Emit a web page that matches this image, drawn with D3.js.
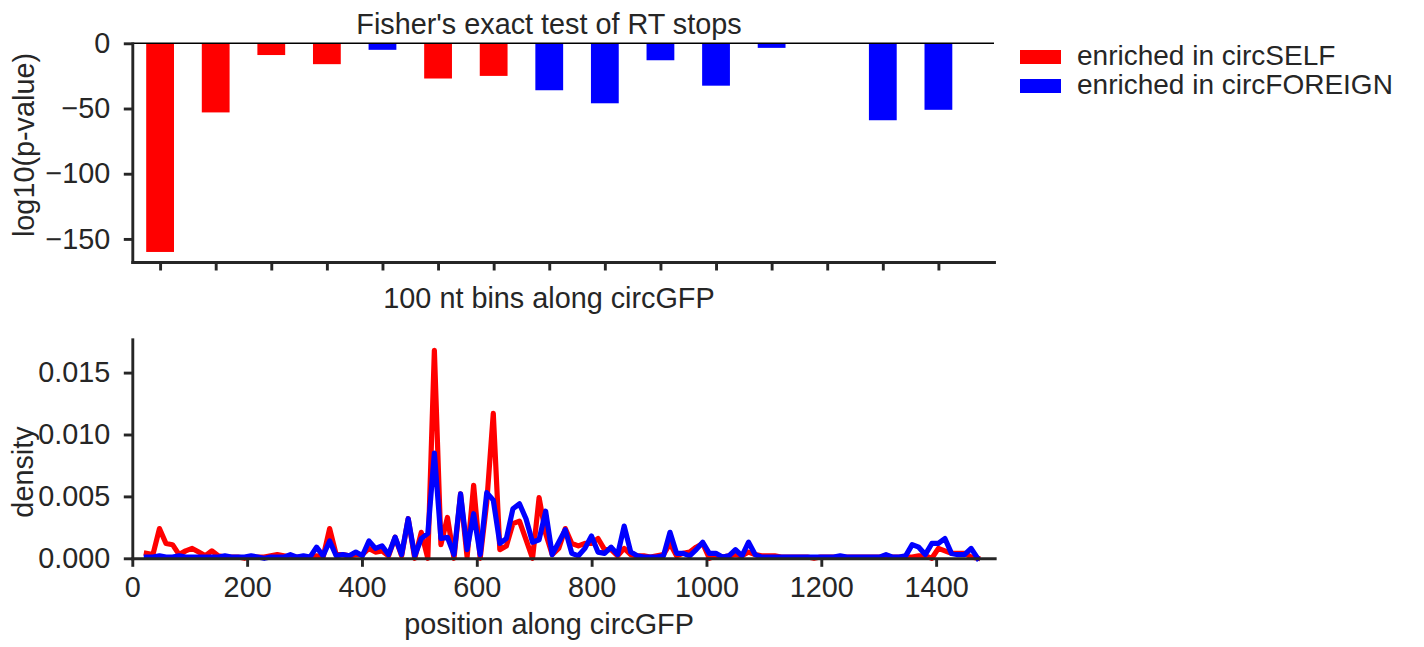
<!DOCTYPE html>
<meta charset="utf-8">
<head>
<style>
 body { margin: 0; background: #fff; }
 text { font-family: "Liberation Sans", Arial, sans-serif; fill: #262626; }
</style>
</head>
<body>
<script src="https://d3js.org/d3.v7.min.js"></script>
<script>
 // top panel: Fisher's exact test per 100 nt bin
 const bins = [0, 1, 2, 3, 4, 5, 6, 7, 8, 9, 10, 11, 12, 13, 14];
 const logP = [-160, -53, -9, -16, -5, -27, -25, -36, -46, -13, -32.5, -3.5, 0, -59, -51];
 const enrichedIn = ["self", "self", "self", "self", "foreign", "self", "self", "foreign",
                     "foreign", "foreign", "foreign", "foreign", "foreign", "foreign", "foreign"];
 const logTicks = [0, -50, -100, -150];
 const legendLabels = ["enriched in circSELF", "enriched in circFOREIGN"];

 // bottom panel: RT stop density along circGFP
 const positions = [24.5, 35.9, 47.3, 58.7, 70.1, 81.5, 92.9, 104.3, 115.7, 127.1,
                    138.5, 149.9, 161.3, 172.7, 184.1, 195.5, 206.9, 218.3, 229.7, 241.1,
                    252.5, 263.9, 275.3, 286.7, 298.1, 309.5, 320.9, 332.3, 343.7, 355.1,
                    366.5, 377.9, 389.3, 400.7, 412.1, 423.5, 434.9, 446.3, 457.7, 469.1,
                    480.5, 491.9, 503.3, 514.7, 526.1, 537.5, 548.9, 560.3, 571.7, 583.1,
                    594.5, 605.9, 617.3, 628.7, 640.1, 651.5, 662.9, 674.3, 685.7, 697.1,
                    708.5, 719.9, 731.3, 742.7, 754.1, 765.5, 776.9, 788.3, 799.7, 811.1,
                    822.5, 833.9, 845.3, 856.7, 868.1, 879.5, 890.9, 902.3, 913.7, 925.1,
                    936.5, 947.9, 959.3, 970.7, 982.1, 993.5, 1004.9, 1016.3, 1027.7, 1039.1,
                    1050.5, 1061.9, 1073.3, 1084.7, 1096.1, 1107.5, 1118.9, 1130.3, 1141.7, 1153.1,
                    1164.5, 1175.9, 1187.3, 1198.7, 1210.1, 1221.5, 1232.9, 1244.3, 1255.7, 1267.1,
                    1278.5, 1289.9, 1301.3, 1312.7, 1324.1, 1335.5, 1346.9, 1358.3, 1369.7, 1381.1,
                    1392.5, 1403.9, 1415.3, 1426.7, 1438.1, 1449.5, 1460.9, 1472.3];
 const selfDensity = [0.0004, 0.0003, 0.0024, 0.0012, 0.0011, 0.0003, 0.0006, 0.0008, 0.0005, 0.0002,
                      0.0006, 0.0002, 0.0001, 0.0001, 0.0001, 0.0000, 0.0001, 0.0001, 0.0001, 0.0002,
                      0.0003, 0.0002, 0.0001, 0.0001, 0.0001, 0.0001, 0.0002, 0.0001, 0.0024, 0.0003,
                      0.0003, 0.0002, 0.0003, 0.0003, 0.0008, 0.0005, 0.0006, 0.0002, 0.0017, 0.0002,
                      0.0032, 0.0000, 0.0021, 0.0000, 0.0168, 0.0011, 0.0033, 0.0000, 0.0052, 0.0001,
                      0.0059, 0.0000, 0.0045, 0.0117, 0.0007, 0.0010, 0.0028, 0.0030, 0.0015, 0.0000,
                      0.0049, 0.0020, 0.0003, 0.0008, 0.0024, 0.0012, 0.0010, 0.0012, 0.0012, 0.0016,
                      0.0007, 0.0007, 0.0002, 0.0008, 0.0003, 0.0002, 0.0002, 0.0001, 0.0002, 0.0003,
                      0.0012, 0.0002, 0.0004, 0.0005, 0.0009, 0.0012, 0.0000, 0.0002, 0.0001, 0.0002,
                      0.0003, 0.0002, 0.0005, 0.0003, 0.0002, 0.0002, 0.0002, 0.0001, 0.0001, 0.0001,
                      0.0001, 0.0001, 0.0000, 0.0001, 0.0001, 0.0001, 0.0001, 0.0001, 0.0001, 0.0001,
                      0.0001, 0.0001, 0.0001, 0.0002, 0.0001, 0.0001, 0.0001, 0.0001, 0.0002, 0.0002,
                      0.0000, 0.0008, 0.0006, 0.0004, 0.0004, 0.0004, 0.0001, 0.0000];
 const foreignDensity = [0.0001, 0.0001, 0.0002, 0.0001, 0.0001, 0.0002, 0.0001, 0.0001, 0.0001, 0.0001,
                         0.0001, 0.0001, 0.0002, 0.0001, 0.0001, 0.0001, 0.0002, 0.0001, 0.0000, 0.0001,
                         0.0001, 0.0001, 0.0003, 0.0001, 0.0002, 0.0001, 0.0009, 0.0002, 0.0014, 0.0002,
                         0.0003, 0.0002, 0.0005, 0.0002, 0.0014, 0.0008, 0.0010, 0.0003, 0.0017, 0.0003,
                         0.0032, 0.0002, 0.0016, 0.0020, 0.0085, 0.0016, 0.0017, 0.0003, 0.0052, 0.0007,
                         0.0036, 0.0003, 0.0053, 0.0047, 0.0012, 0.0016, 0.0040, 0.0044, 0.0032, 0.0013,
                         0.0015, 0.0038, 0.0003, 0.0013, 0.0023, 0.0004, 0.0002, 0.0008, 0.0018, 0.0005,
                         0.0004, 0.0009, 0.0003, 0.0026, 0.0005, 0.0002, 0.0001, 0.0001, 0.0001, 0.0002,
                         0.0021, 0.0004, 0.0004, 0.0002, 0.0007, 0.0013, 0.0004, 0.0004, 0.0001, 0.0002,
                         0.0007, 0.0002, 0.0013, 0.0003, 0.0001, 0.0001, 0.0001, 0.0001, 0.0001, 0.0001,
                         0.0001, 0.0001, 0.0001, 0.0001, 0.0001, 0.0001, 0.0002, 0.0001, 0.0001, 0.0001,
                         0.0001, 0.0001, 0.0001, 0.0003, 0.0001, 0.0001, 0.0002, 0.0011, 0.0009, 0.0003,
                         0.0012, 0.0012, 0.0016, 0.0004, 0.0003, 0.0003, 0.0008, 0.0000];
 const densityTicks = [0, 0.005, 0.01, 0.015];
 const positionTicks = [0, 200, 400, 600, 800, 1000, 1200, 1400];

 const colors = { self: "#ff0000", foreign: "#0000ff" };
 const fontSize = "28.8px";
 const spine = "#262626";

 const svg = d3.select("body").append("svg")
               .attr("width", 1424)
               .attr("height", 647);

 function styleAxis(g) {
     g.selectAll(".domain").attr("stroke", spine).attr("stroke-width", 2.9).attr("stroke-linecap", "square");
     g.selectAll(".tick line").attr("stroke", spine).attr("stroke-width", 2.9);
     g.selectAll(".tick text").style("font-size", fontSize).attr("fill", "#262626")
      .style("font-family", '"Liberation Sans", Arial, sans-serif');
 }

 // ---------- top panel ----------
 const xBin = d3.scaleLinear().domain([-0.5, 15]).range([132.3, 994]);
 const yLog = d3.scaleLinear().domain([-167.7, 0]).range([262, 43.3]);
 const barW = xBin(0.25) - xBin(-0.25);

 const topPanel = svg.append("g");

 topPanel.selectAll("rect.bar")
    .data(bins)
    .join("rect")
    .attr("class", "bar")
    .attr("x", i => xBin(i) - barW / 2)
    .attr("width", barW)
    .attr("y", yLog(0))
    .attr("height", i => yLog(logP[i]) - yLog(0))
    .attr("fill", i => colors[enrichedIn[i]]);

 // zero line
 topPanel.append("line")
    .attr("x1", xBin(-0.5)).attr("x2", xBin(15))
    .attr("y1", yLog(0)).attr("y2", yLog(0))
    .attr("stroke", "#000").attr("stroke-width", 1.6);

 topPanel.append("g")
    .attr("transform", `translate(${xBin(-0.5)},0)`)
    .call(d3.axisLeft(yLog).tickValues(logTicks).tickSize(8.5).tickPadding(13.5).tickSizeOuter(0)
            .tickFormat(d => d3.format("d")(d).replace("-", "\u2212")))
    .call(styleAxis);

 topPanel.append("g")
    .attr("transform", `translate(0,${yLog(-167.7)})`)
    .call(d3.axisBottom(xBin).tickValues(bins).tickSize(8.5).tickSizeOuter(0).tickFormat(""))
    .call(styleAxis);

 topPanel.append("text")
    .attr("x", 549).attr("y", 34)
    .attr("text-anchor", "middle")
    .style("font-size", fontSize)
    .text("Fisher's exact test of RT stops");

 topPanel.append("text")
    .attr("x", 549).attr("y", 308)
    .attr("text-anchor", "middle")
    .style("font-size", fontSize)
    .text("100 nt bins along circGFP");

 topPanel.append("text")
    .attr("transform", "translate(34,145) rotate(-90)")
    .attr("text-anchor", "middle")
    .style("font-size", fontSize)
    .text("log10(p-value)");

 // legend
 const legend = svg.append("g")
                   .selectAll("g")
                   .data(["self", "foreign"])
                   .join("g")
                   .attr("transform", (d, i) => `translate(1020,${50 + i * 29})`);
 legend.append("rect")
       .attr("width", 41).attr("height", 14)
       .attr("fill", d => colors[d]);
 legend.append("text")
       .attr("x", 57).attr("y", 15)
       .style("font-size", "28px")
       .text((d, i) => legendLabels[i]);

 // ---------- bottom panel ----------
 const xPos = d3.scaleLinear().domain([0, 1502]).range([132.3, 994.7]);
 const yDen = d3.scaleLinear().domain([0, 0.01769]).range([558.3, 339.3]);

 const bottomPanel = svg.append("g");

 const line = d3.line()
                .x(d => xPos(d[0]))
                .y(d => yDen(d[1]));

 bottomPanel.append("path")
       .datum(d3.zip(positions, selfDensity))
       .attr("d", line)
       .attr("fill", "none")
       .attr("stroke", colors.self)
       .attr("stroke-width", 5.2)
       .attr("stroke-linejoin", "round")
       .attr("stroke-linecap", "square");

 bottomPanel.append("path")
       .datum(d3.zip(positions, foreignDensity))
       .attr("d", line)
       .attr("fill", "none")
       .attr("stroke", colors.foreign)
       .attr("stroke-width", 5.2)
       .attr("stroke-linejoin", "round")
       .attr("stroke-linecap", "square");

 bottomPanel.append("g")
       .attr("transform", `translate(${xPos(0)},0)`)
       .call(d3.axisLeft(yDen).tickValues(densityTicks).tickSize(8.5).tickPadding(13.5).tickSizeOuter(0)
               .tickFormat(d3.format(".3f")))
       .call(styleAxis);

 bottomPanel.append("g")
       .attr("transform", `translate(0,${yDen(0)})`)
       .call(d3.axisBottom(xPos).tickValues(positionTicks).tickSize(8.5).tickPadding(10).tickSizeOuter(0)
               .tickFormat(d3.format("d")))
       .call(styleAxis);

 bottomPanel.append("text")
       .attr("x", 549).attr("y", 634)
       .attr("text-anchor", "middle")
       .style("font-size", fontSize)
       .text("position along circGFP");

 bottomPanel.append("text")
       .attr("transform", "translate(33,472) rotate(-90)")
       .attr("text-anchor", "middle")
       .style("font-size", fontSize)
       .text("density");
</script>
</body>
